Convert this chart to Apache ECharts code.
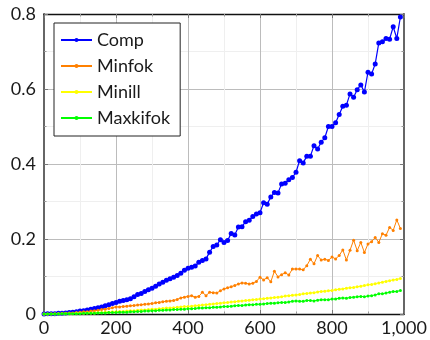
<!DOCTYPE html>
<html>
<head>
<meta charset="utf-8">
<script src="https://cdn.jsdelivr.net/npm/echarts@6/dist/echarts.min.js"></script>
<style>
  html, body { margin: 0; padding: 0; background: #fff; }
  #chart { width: 430px; height: 340px; }
</style>
</head>
<body>
<div id="chart"></div>
<script>
// Problem sizes (x) shared by every series
const sizes = [
  0, 10, 20, 30, 40, 50, 60, 70, 80, 90,
  100, 110, 120, 130, 140, 150, 160, 170, 180, 190,
  200, 210, 220, 230, 240, 250, 260, 270, 280, 290,
  300, 310, 320, 330, 340, 350, 360, 370, 380, 390,
  400, 410, 420, 430, 440, 450, 460, 470, 480, 490,
  500, 510, 520, 530, 540, 550, 560, 570, 580, 590,
  600, 610, 620, 630, 640, 650, 660, 670, 680, 690,
  700, 710, 720, 730, 740, 750, 760, 770, 780, 790,
  800, 810, 820, 830, 840, 850, 860, 870, 880, 890,
  900, 910, 920, 930, 940, 950, 960, 970, 980, 990
];

const comp = [
  0.000, 0.001, 0.001, 0.001, 0.002, 0.002, 0.003, 0.004, 0.005, 0.006,
  0.008, 0.009, 0.011, 0.013, 0.015, 0.017, 0.019, 0.022, 0.025, 0.028,
  0.031, 0.034, 0.036, 0.038, 0.041, 0.046, 0.052, 0.055, 0.060, 0.065,
  0.069, 0.074, 0.080, 0.085, 0.090, 0.094, 0.098, 0.103, 0.109, 0.117,
  0.122, 0.125, 0.128, 0.138, 0.143, 0.147, 0.165, 0.180, 0.184, 0.198,
  0.191, 0.196, 0.215, 0.211, 0.232, 0.233, 0.246, 0.250, 0.260, 0.267,
  0.270, 0.297, 0.293, 0.312, 0.324, 0.323, 0.347, 0.349, 0.358, 0.364,
  0.378, 0.409, 0.403, 0.421, 0.421, 0.449, 0.440, 0.458, 0.470, 0.500,
  0.500, 0.510, 0.532, 0.554, 0.557, 0.587, 0.578, 0.598, 0.611, 0.592,
  0.645, 0.640, 0.667, 0.723, 0.726, 0.735, 0.733, 0.766, 0.735, 0.792
];

const minfok = [
  0.000, 0.000, 0.001, 0.001, 0.001, 0.002, 0.002, 0.003, 0.003, 0.004,
  0.005, 0.006, 0.006, 0.008, 0.009, 0.010, 0.012, 0.013, 0.015, 0.017,
  0.019, 0.019, 0.020, 0.021, 0.022, 0.023, 0.024, 0.025, 0.026, 0.027,
  0.028, 0.030, 0.031, 0.033, 0.034, 0.035, 0.036, 0.039, 0.043, 0.045,
  0.047, 0.049, 0.045, 0.047, 0.058, 0.049, 0.058, 0.057, 0.056, 0.062,
  0.067, 0.070, 0.073, 0.076, 0.080, 0.083, 0.082, 0.080, 0.082, 0.087,
  0.098, 0.091, 0.097, 0.086, 0.114, 0.099, 0.105, 0.110, 0.104, 0.120,
  0.120, 0.120, 0.118, 0.129, 0.146, 0.134, 0.156, 0.144, 0.146, 0.143,
  0.152, 0.147, 0.156, 0.171, 0.144, 0.170, 0.197, 0.169, 0.191, 0.164,
  0.187, 0.193, 0.204, 0.191, 0.214, 0.210, 0.231, 0.223, 0.251, 0.228
];

const minill = [
  0.000, 0.000, 0.000, 0.000, 0.001, 0.001, 0.001, 0.001, 0.001, 0.002,
  0.002, 0.002, 0.003, 0.003, 0.003, 0.004, 0.004, 0.005, 0.005, 0.006,
  0.006, 0.007, 0.007, 0.008, 0.009, 0.009, 0.010, 0.011, 0.011, 0.012,
  0.013, 0.013, 0.014, 0.015, 0.016, 0.016, 0.017, 0.018, 0.019, 0.020,
  0.020, 0.021, 0.022, 0.023, 0.024, 0.025, 0.026, 0.027, 0.028, 0.029,
  0.030, 0.031, 0.032, 0.033, 0.034, 0.035, 0.036, 0.037, 0.038, 0.039,
  0.040, 0.041, 0.042, 0.043, 0.044, 0.045, 0.046, 0.048, 0.049, 0.050,
  0.051, 0.052, 0.054, 0.055, 0.056, 0.057, 0.059, 0.060, 0.061, 0.062,
  0.063, 0.065, 0.066, 0.067, 0.069, 0.070, 0.071, 0.073, 0.074, 0.076,
  0.078, 0.079, 0.081, 0.083, 0.085, 0.087, 0.089, 0.091, 0.092, 0.095
];

const maxkifok = [
  0.000, 0.000, 0.000, 0.000, 0.000, 0.001, 0.001, 0.001, 0.001, 0.001,
  0.001, 0.002, 0.002, 0.002, 0.002, 0.003, 0.003, 0.003, 0.004, 0.004,
  0.004, 0.005, 0.005, 0.005, 0.006, 0.006, 0.007, 0.007, 0.008, 0.008,
  0.009, 0.009, 0.010, 0.010, 0.011, 0.011, 0.012, 0.012, 0.013, 0.013,
  0.014, 0.014, 0.015, 0.016, 0.016, 0.017, 0.017, 0.018, 0.018, 0.019,
  0.020, 0.020, 0.021, 0.022, 0.023, 0.023, 0.024, 0.025, 0.025, 0.026,
  0.026, 0.027, 0.028, 0.029, 0.029, 0.030, 0.031, 0.031, 0.032, 0.034,
  0.035, 0.034, 0.034, 0.036, 0.036, 0.035, 0.037, 0.038, 0.038, 0.038,
  0.040, 0.040, 0.042, 0.043, 0.042, 0.044, 0.045, 0.046, 0.047, 0.046,
  0.048, 0.049, 0.051, 0.054, 0.054, 0.056, 0.058, 0.060, 0.060, 0.063
];

const seriesNames = ['Comp', 'Minfok', 'Minill', 'Maxkifok'];
const seriesColors = ['#0000ff', '#ff8000', '#ffff00', '#00ff00'];
const seriesValues = [comp, minfok, minill, maxkifok];
const markerSizes = [5, 3, 3, 3];
const lineWidths = [1.2, 1, 1, 1];

const FONT = 'Lato';
const TEXT = '#1a1a1a';

function pairs(values) {
  return sizes.map((x, i) => [x, values[i]]);
}

const frameAxis = (extra) => Object.assign({
  type: 'value',
  axisTick: { show: true, inside: true, length: 4, lineStyle: { color: '#777', width: 1 } },
  minorTick: { show: true, splitNumber: 2, length: 2.5, lineStyle: { color: '#999', width: 1 } },
  splitLine: { show: false },
  minorSplitLine: { show: false },
  axisLabel: { show: false }
}, extra);

const chart = echarts.init(document.getElementById('chart'), null, { renderer: 'canvas' });

chart.setOption({
  animation: false,
  backgroundColor: '#ffffff',
  textStyle: { fontFamily: FONT },
  grid: { left: 44, right: 26, top: 14, bottom: 26, containLabel: false },
  legend: {
    orient: 'vertical',
    left: 54,
    top: 23,
    data: seriesNames,
    itemWidth: 31,
    itemHeight: 5,
    itemGap: 6,
    padding: [7, 10, 8, 6],
    borderColor: '#222',
    borderWidth: 1,
    backgroundColor: '#ffffff',
    textStyle: { fontFamily: FONT, fontSize: 18, color: TEXT, lineHeight: 20 }
  },
  xAxis: [
    frameAxis({
      position: 'bottom', min: 0, max: 1000, interval: 200,
      axisLine: { show: true, onZero: false, lineStyle: { color: '#111', width: 1.3 } },
      splitLine: { show: true, lineStyle: { color: '#bcbcbc', width: 1 } },
      minorSplitLine: { show: true, lineStyle: { color: '#efefef', width: 1 } },
      axisLabel: { show: true, fontFamily: FONT, fontSize: 18, color: TEXT, margin: 5 }
    }),
    frameAxis({
      position: 'top', min: 0, max: 1000, interval: 200,
      axisLine: { show: true, onZero: false, lineStyle: { color: '#111', width: 1.3 } }
    })
  ],
  yAxis: [
    frameAxis({
      position: 'left', min: 0, max: 0.8, interval: 0.2,
      axisLine: { show: true, onZero: false, lineStyle: { color: '#666', width: 2 } },
      splitLine: { show: true, lineStyle: { color: '#bcbcbc', width: 1 } },
      minorSplitLine: { show: true, lineStyle: { color: '#efefef', width: 1 } },
      axisLabel: { show: true, fontFamily: FONT, fontSize: 18, color: TEXT, margin: 8 }
    }),
    frameAxis({
      position: 'right', min: 0, max: 0.8, interval: 0.2,
      axisLine: { show: true, onZero: false, lineStyle: { color: '#666', width: 2 } }
    })
  ],
  series: seriesNames.map((name, i) => ({
    name: name,
    type: 'line',
    xAxisIndex: 0,
    yAxisIndex: 0,
    data: pairs(seriesValues[i]),
    symbol: 'circle',
    symbolSize: markerSizes[i],
    showAllSymbol: true,
    color: seriesColors[i],
    lineStyle: { color: seriesColors[i], width: lineWidths[i] },
    itemStyle: { color: seriesColors[i] },
    z: 3 + i
  }))
});
</script>
</body>
</html>
